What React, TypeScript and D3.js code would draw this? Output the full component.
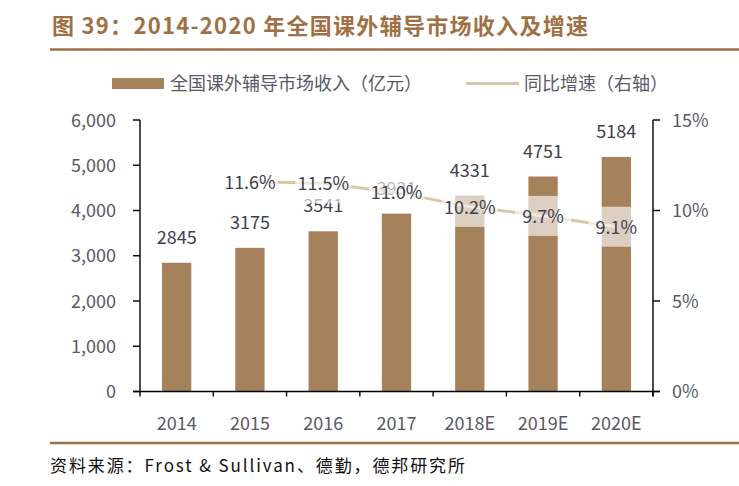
import React from "react";
import * as d3 from "d3";

const categories = ["2014", "2015", "2016", "2017", "2018E", "2019E", "2020E"];
const revenue = [2845, 3175, 3541, 3931, 4331, 4751, 5184];
const growth = [null, 11.6, 11.5, 11.0, 10.2, 9.7, 9.1];
const leftTicks = [0, 1000, 2000, 3000, 4000, 5000, 6000];
const rightTicks = [0, 5, 10, 15];
const titleText = "图 39：2014-2020 年全国课外辅导市场收入及增速";
const legendBar = "全国课外辅导市场收入（亿元）";
const legendLine = "同比增速（右轴）";
const sourceText = "资料来源：Frost & Sullivan、德勤，德邦研究所";

const W = 739;
const H = 486;
const FONT = "'Microsoft YaHei', 'Noto Sans CJK SC', 'Noto Sans', sans-serif";

export default function App() {
  const x0 = 140, x1 = 653, yTop = 120, yBot = 391.5;
  const band = d3.scaleBand<string>().domain(categories).range([x0, x1]);
  const yL = d3.scaleLinear().domain([0, 6000]).range([yBot, yTop]);
  const yR = d3.scaleLinear().domain([0, 15]).range([yBot, yTop]);
  const cx = (c: string) => (band(c) as number) + band.bandwidth() / 2;
  const bw = band.bandwidth() * 0.4;

  const linePts = categories
    .map((c, i) => ({ c, v: growth[i] }))
    .filter((d) => d.v !== null) as { c: string; v: number }[];
  const lineGen = d3
    .line<{ c: string; v: number }>()
    .x((d) => cx(d.c))
    .y((d) => yR(d.v));

  const barColor = "#a6825c";
  const brown = "#9f6f45";
  const lineColor = "#d8c8a4";
  const axisText = "#595968";
  const labelText = "#404050";

  return (
    <svg width={W} height={H} style={{ position: "absolute", left: 0, top: 0, background: "#fff" }}>
      <rect x={0} y={0} width={W} height={H} fill="#fff" />
      {/* title */}
      <text x={52} y={34} fontFamily={FONT} fontWeight="bold" fontSize={22} fill={brown} textLength={536} lengthAdjust="spacing">
        {titleText}
      </text>
      <line x1={50} x2={W} y1={49.5} y2={49.5} stroke={brown} strokeWidth={2.6} />

      {/* legend */}
      <rect x={112} y={78} width={52} height={11} fill={barColor} />
      <text x={170} y={90} fontFamily={FONT} fontSize={18} fill={axisText}>{legendBar}</text>
      <line x1={466} x2={519} y1={83.5} y2={83.5} stroke={lineColor} strokeWidth={3} />
      <text x={524} y={90} fontFamily={FONT} fontSize={18} fill={axisText}>{legendLine}</text>

      {/* bars */}
      {categories.map((c, i) => (
        <rect key={c} x={cx(c) - bw / 2} y={yL(revenue[i])} width={bw} height={yBot - yL(revenue[i])} fill={barColor} />
      ))}
      {categories.map((c, i) => (
        <text key={c} x={cx(c)} y={yL(revenue[i]) - 19} textAnchor="middle" fontFamily={FONT} fontSize={18} fill={labelText}>
          {revenue[i]}
        </text>
      ))}

      {/* axes */}
      <line x1={x0} x2={x0} y1={yTop} y2={yBot + 5} stroke="#000" strokeWidth={1.4} />
      <line x1={x1} x2={x1} y1={yTop} y2={yBot + 5} stroke="#000" strokeWidth={1.4} />
      <line x1={x0 - 7} x2={x1 + 7} y1={yBot} y2={yBot} stroke="#000" strokeWidth={1.4} />
      {leftTicks.map((t) => (
        <g key={t}>
          <line x1={x0 - 7} x2={x0} y1={yL(t)} y2={yL(t)} stroke="#000" strokeWidth={1.4} />
          <text x={116} y={yL(t) + 6.5} textAnchor="end" fontFamily={FONT} fontSize={18} fill={axisText}>
            {d3.format(",")(t)}
          </text>
        </g>
      ))}
      {rightTicks.map((t) => (
        <g key={t}>
          <line x1={x1} x2={x1 + 7} y1={yR(t)} y2={yR(t)} stroke="#000" strokeWidth={1.4} />
          <text x={672} y={yR(t) + 6.5} textAnchor="start" fontFamily={FONT} fontSize={18} fill={axisText}>
            {t + "%"}
          </text>
        </g>
      ))}
      {categories.map((c) => (
        <line key={c} x1={(band(c) as number) + band.bandwidth()} x2={(band(c) as number) + band.bandwidth()} y1={yBot} y2={yBot + 5} stroke="#000" strokeWidth={1.4} />
      ))}
      {categories.map((c) => (
        <text key={c} x={cx(c)} y={430} textAnchor="middle" fontFamily={FONT} fontSize={18} fill={axisText}>
          {c}
        </text>
      ))}

      {/* growth line */}
      <path d={lineGen(linePts) || ""} fill="none" stroke={lineColor} strokeWidth={3} />
      {linePts.map((d) => (
        <rect key={d.c} x={cx(d.c) - 28} y={yR(d.v) - 20} width={56} height={40} fill="#fff" fillOpacity={0.62} />
      ))}
      {linePts.map((d) => (
        <text key={d.c} x={cx(d.c)} y={yR(d.v) + 7} textAnchor="middle" fontFamily={FONT} fontSize={18} fill={labelText}>
          {d.v.toFixed(1) + "%"}
        </text>
      ))}

      {/* footer */}
      <line x1={50} x2={W} y1={443} y2={443} stroke={brown} strokeWidth={2.6} />
      <text x={50} y={472} fontFamily={FONT} fontSize={17} fill="#111" textLength={415} lengthAdjust="spacing">{sourceText}</text>
    </svg>
  );
}
